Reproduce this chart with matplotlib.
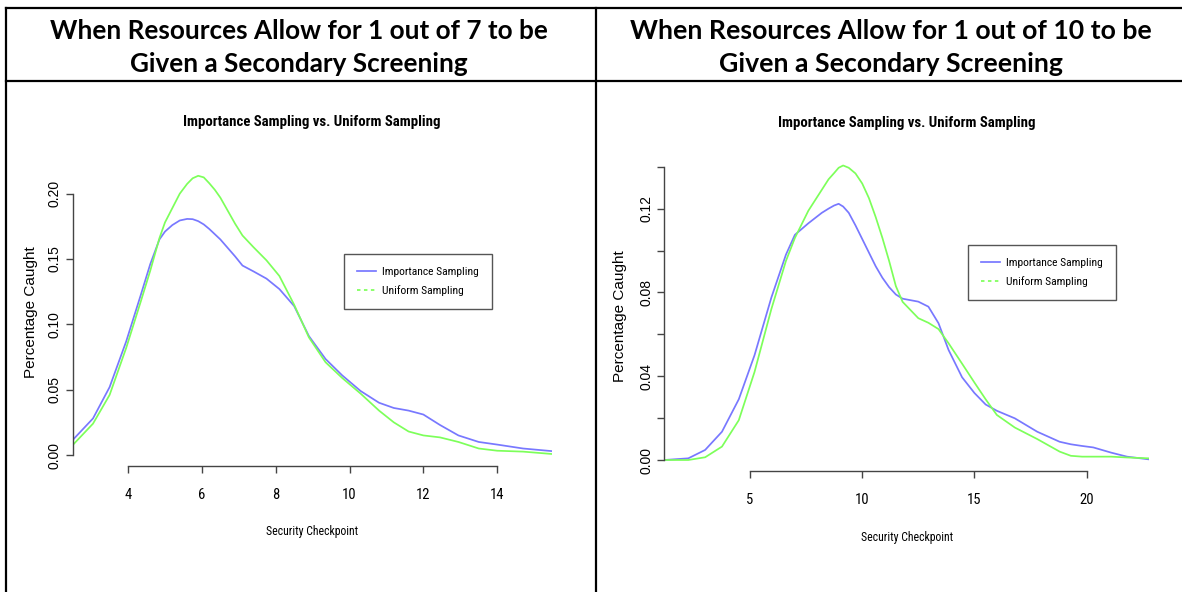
import matplotlib.pyplot as plt
from matplotlib.lines import Line2D
from matplotlib import font_manager

# panel headers
header_lines = [["When Resources Allow for 1 out of 7 to be", "Given a Secondary Screening"],
                ["When Resources Allow for 1 out of 10 to be", "Given a Secondary Screening"]]
plot_title = "Importance Sampling vs. Uniform Sampling"
x_label = "Security Checkpoint"
y_label = "Percentage Caught"
series_names = ["Importance Sampling", "Uniform Sampling"]

# 1 out of 7
x7 = [2.5, 3.05, 3.5, 3.95, 4.35, 4.6, 4.85, 5.0, 5.2, 5.4, 5.6, 5.75, 5.9, 6.05, 6.2, 6.35, 6.5,
      6.9, 7.1, 7.4, 7.75, 8.1, 8.5, 8.9, 9.35, 9.8, 10.3, 10.8, 11.2, 11.6, 12.0, 12.45, 12.95,
      13.5, 14.0, 14.7, 15.48]
imp7 = [0.0115, 0.028, 0.052, 0.087, 0.123, 0.146, 0.165, 0.171, 0.176, 0.1795, 0.1807, 0.1805,
        0.179, 0.1765, 0.173, 0.169, 0.165, 0.152, 0.145, 0.1405, 0.135, 0.127, 0.114, 0.091,
        0.0735, 0.061, 0.049, 0.040, 0.036, 0.034, 0.031, 0.023, 0.015, 0.010, 0.008, 0.005, 0.003]
uni7 = [0.0076, 0.024, 0.046, 0.082, 0.118, 0.141, 0.166, 0.178, 0.189, 0.200, 0.2075, 0.2118,
        0.2137, 0.2125, 0.208, 0.203, 0.197, 0.177, 0.168, 0.159, 0.149, 0.137, 0.115, 0.090,
        0.071, 0.059, 0.047, 0.034, 0.025, 0.018, 0.015, 0.0135, 0.010, 0.005, 0.0033, 0.0026, 0.0008]

# 1 out of 10
x10 = [1.18, 2.25, 3.0, 3.75, 4.5, 5.2, 5.95, 6.6, 7.0, 7.6, 8.2, 8.5, 8.75, 8.95, 9.15, 9.4, 9.7,
       10.0, 10.3, 10.6, 10.9, 11.2, 11.5, 11.8, 12.5, 12.95, 13.4, 13.85, 14.45, 15.0, 15.5, 16.0,
       16.8, 17.8, 18.8, 19.3, 19.8, 20.3, 21.1, 21.8, 22.78]
imp10 = [0.0, 0.0008, 0.0048, 0.0135, 0.029, 0.050, 0.0775, 0.098, 0.1075, 0.113, 0.118, 0.120,
         0.1215, 0.1223, 0.121, 0.118, 0.112, 0.1055, 0.099, 0.0925, 0.087, 0.0825, 0.079, 0.077,
         0.0756, 0.0732, 0.0653, 0.0525, 0.0395, 0.032, 0.0265, 0.0235, 0.0199, 0.0135, 0.0087,
         0.0075, 0.0067, 0.006, 0.0035, 0.0016, 0.0003]
uni10 = [0.0, 0.0, 0.0013, 0.0064, 0.019, 0.042, 0.072, 0.095, 0.106, 0.119, 0.129, 0.134, 0.137,
         0.1395, 0.1406, 0.1395, 0.1368, 0.132, 0.125, 0.116, 0.106, 0.095, 0.083, 0.0755, 0.0677,
         0.0655, 0.0625, 0.0557, 0.046, 0.037, 0.029, 0.0215, 0.0155, 0.010, 0.004, 0.002, 0.0016,
         0.0016, 0.0016, 0.0012, 0.0008]

BLUE = '#7878ff'
GREEN = '#7dff5a'

avail = {f.name for f in font_manager.fontManager.ttflist}
NARROW = next((n for n in ['Liberation Sans Narrow', 'Arial Narrow', 'Roboto Condensed',
                           'DejaVu Sans Condensed', 'Open Sans Condensed'] if n in avail),
              'Liberation Sans')

fig = plt.figure(figsize=(11.82, 5.92), dpi=100)
W, H = 1182, 592
renderer = fig.canvas.get_renderer()


def fx(px):
    return px / W


def fy(py):
    return 1 - py / H


def fit(t, width_px):
    # scale the font so the text is as wide as in the reference
    w = t.get_window_extent(renderer=renderer).width
    t.set_fontsize(t.get_fontsize() * width_px / w)
    return t


# table borders
for (x0, y0, x1, y1) in [(5.5, 7.5, W, 7.5), (5.5, 80.5, W, 80.5),
                         (5.5, 7.5, 5.5, H), (596, 7.5, 596, H)]:
    fig.add_artist(Line2D([fx(x0), fx(x1)], [fy(y0), fy(y1)], color='black', lw=1.6,
                          transform=fig.transFigure))

for cx, lines, w1 in [(299, header_lines[0], 498), (891, header_lines[1], 523)]:
    t1 = fig.text(fx(cx), fy(31), lines[0], ha='center', va='center', fontsize=18,
                  fontweight='bold', family='Lato')
    fit(t1, w1)
    fig.text(fx(cx), fy(64), lines[1], ha='center', va='center', fontsize=t1.get_fontsize(),
             fontweight='bold', family='Lato')

# legend font size from the width of the first entry
probe = fig.text(0, 0, series_names[0], family=NARROW, fontsize=10)
fit(probe, 96)
LEG_SIZE = probe.get_fontsize()
probe.remove()
LEG_PX = LEG_SIZE * 100 / 72


def panel(rect, x, imp, uni, xlim, ylim, xticks, yticks, ylabels, xbounds, ybounds,
          title_y, xlabel_y, leg_xy, cx):
    ax = fig.add_axes(rect)
    ax.plot(x, imp, color=BLUE, lw=1.25)
    ax.plot(x, uni, color=GREEN, lw=1.25)
    ax.set_xlim(*xlim)
    ax.set_ylim(*ylim)
    for s in ['top', 'right']:
        ax.spines[s].set_visible(False)
    for s in ['left', 'bottom']:
        ax.spines[s].set_color('#444444')
        ax.spines[s].set_linewidth(1.0)
    ax.spines['left'].set_bounds(*ybounds)
    ax.spines['bottom'].set_bounds(*xbounds)
    ax.set_xticks(xticks)
    ax.set_xticklabels([str(t) for t in xticks], family=NARROW, fontsize=10.5)
    ax.set_yticks(yticks)
    ax.set_yticklabels(ylabels, rotation=90, va='center', family='Liberation Sans', fontsize=10)
    ax.tick_params(axis='x', length=5, width=1, color='#444444', pad=11)
    ax.tick_params(axis='y', length=5, width=1, color='#444444', pad=3)
    ax.set_facecolor('none')
    t = fig.text(fx(cx), fy(title_y), plot_title, ha='center', va='center', fontsize=11,
                 fontweight='bold', family=NARROW)
    fit(t, 256)
    t = fig.text(fx(cx), fy(xlabel_y), x_label, ha='center', va='center',
                 fontsize=10, family=NARROW)
    fit(t, 92)
    handles = [Line2D([], [], color=BLUE, lw=1.25),
               Line2D([], [], color=GREEN, lw=1.25, ls=(0, (2, 2)))]
    leg = ax.legend(handles, series_names, loc='upper left',
                    bbox_to_anchor=(fx(leg_xy[0]), fy(leg_xy[1])),
                    bbox_transform=fig.transFigure, fancybox=False, framealpha=1,
                    edgecolor='#555555', prop={'family': NARROW, 'size': LEG_SIZE},
                    handlelength=19 / LEG_PX, handletextpad=6 / LEG_PX, borderpad=1.15,
                    labelspacing=0.7, borderaxespad=0)
    leg.get_frame().set_linewidth(1.0)
    return ax


ax1 = panel([fx(72.7), fy(466), fx(551.8 - 72.7), (466 - 165.6) / H], x7, imp7, uni7,
            (2.5, 15.48), (-0.0084, 0.2215), [4, 6, 8, 10, 12, 14],
            [0.0, 0.05, 0.10, 0.15, 0.20], ["0.00", "0.05", "0.10", "0.15", "0.20"],
            (4, 14), (0, 0.20), 122, 532, (344, 254), 312)
fig.text(fx(30.6), fy(312), y_label, rotation=90, ha='center', va='center',
         family='Liberation Sans', fontsize=11)

yt10 = [0.0, 0.02, 0.04, 0.06, 0.08, 0.10, 0.12, 0.14]
yl10 = ["0.00", "", "0.04", "", "0.08", "", "0.12", ""]
ax2 = panel([fx(664.3), fy(471), fx(1149.2 - 664.3), (471 - 155) / H], x10, imp10, uni10,
            (1.18, 22.79), (-0.00525, 0.1456), [5, 10, 15, 20], yt10, yl10,
            (5, 20), (0, 0.14), 123, 538, (967.8, 245), 907)
fig.text(fx(620), fy(316), y_label, rotation=90, ha='center', va='center',
         family='Liberation Sans', fontsize=11)

fig.savefig('out.png', dpi=100)
